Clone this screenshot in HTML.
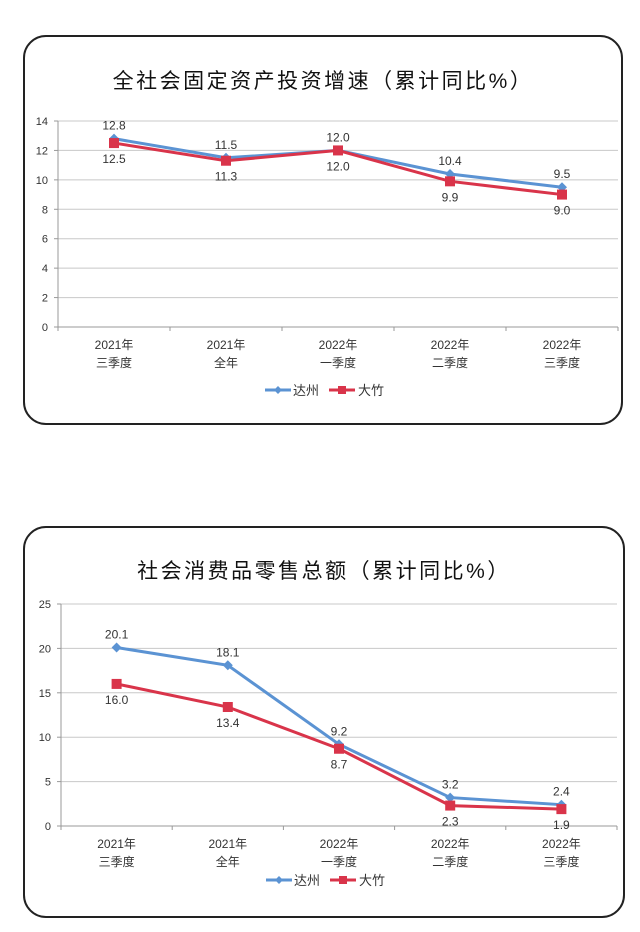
<!DOCTYPE html>
<html><head><meta charset="utf-8"><style>
html,body{margin:0;padding:0;background:#fff;}
body{width:640px;height:932px;position:relative;overflow:hidden;font-family:"Liberation Sans","Noto Sans CJK SC",sans-serif;}
svg{position:absolute;left:0;top:0;}
</style></head><body>
<svg id="s" width="640" height="932"></svg>
<script>
const categoriesTop = ["2021年|三季度","2021年|全年","2022年|一季度","2022年|二季度","2022年|三季度"];
const dazhouInvest = [12.8, 11.5, 12.0, 10.4, 9.5];
const dazhuInvest = [12.5, 11.3, 12.0, 9.9, 9.0];
const ticksTop = [0,2,4,6,8,10,12,14];
const categoriesBottom = ["2021年|三季度","2021年|全年","2022年|一季度","2022年|二季度","2022年|三季度"];
const dazhouRetail = [20.1, 18.1, 9.2, 3.2, 2.4];
const dazhuRetail = [16.0, 13.4, 8.7, 2.3, 1.9];
const ticksBottom = [0,5,10,15,20,25];

const NS="http://www.w3.org/2000/svg";
const svg=document.getElementById('s');
function mk(tag,attrs,parent){const e=document.createElementNS(NS,tag);for(const k in attrs)e.setAttribute(k,attrs[k]);(parent||svg).appendChild(e);return e;}

function chart(cfg){
  const g=mk('g',{});
  
  
  const panel=mk('rect',{x:cfg.px,y:cfg.py,width:cfg.pw,height:cfg.ph,rx:22,ry:22,fill:'#fff',stroke:'#222','stroke-width':2},g);
  
  
  const t=mk('text',{x:cfg.px+cfg.pw/2,y:cfg.titleY,'text-anchor':'middle','font-size':21,fill:'#111','letter-spacing':'2.5'},g);
  t.textContent=cfg.title;
  
  
  const max=cfg.ticks[cfg.ticks.length-1];
  const y=v=>cfg.y0-(v/max)*(cfg.y0-cfg.yTop);
  const n=cfg.cats.length;const step=(cfg.x1-cfg.x0)/n;
  const x=i=>cfg.x0+step*(i+0.5);
  cfg.ticks.forEach(v=>{
    if(v>0){const l=mk('line',{x1:cfg.x0,x2:cfg.x1,y1:y(v),y2:y(v),stroke:'#c8c8c8','stroke-width':1},g);
    }
    const tl=mk('text',{x:cfg.x0-10,y:y(v)+4,'text-anchor':'end','font-size':11,fill:'#333'},g);
    tl.textContent=v;
    mk('line',{x1:cfg.x0-4,x2:cfg.x0,y1:y(v),y2:y(v),stroke:'#999'},g);
  });
  const ax=mk('line',{x1:cfg.x0,x2:cfg.x0,y1:cfg.yTop,y2:cfg.y0,stroke:'#999'},g);
  
  const xa=mk('line',{x1:cfg.x0,x2:cfg.x1,y1:cfg.y0,y2:cfg.y0,stroke:'#999'},g);
  
  for(let i=0;i<=n;i++)mk('line',{x1:cfg.x0+step*i,x2:cfg.x0+step*i,y1:cfg.y0,y2:cfg.y0+4,stroke:'#999'},g);
  cfg.cats.forEach((c,i)=>{
    const parts=c.split('|');
    parts.forEach((p,j)=>{
      const tx=mk('text',{x:x(i),y:cfg.y0+22+j*18,'text-anchor':'middle','font-size':12,fill:'#333'},g);
      tx.textContent=p;
    });
  });
  const series=[{d:cfg.blue,c:'#5b93d3',name:'dazhou-line',above:true},{d:cfg.red,c:'#d9344a',name:'dazhu-line',above:false}];
  series.forEach(s=>{
    const pl=mk('polyline',{points:s.d.map((v,i)=>x(i)+','+y(v)).join(' '),fill:'none',stroke:s.c,'stroke-width':3},g);
    
    s.d.forEach((v,i)=>{
      let m;
      if(s.above){m=mk('path',{d:`M${x(i)} ${y(v)-5}L${x(i)+5} ${y(v)}L${x(i)} ${y(v)+5}L${x(i)-5} ${y(v)}Z`,fill:s.c},g);}
      else{m=mk('rect',{x:x(i)-5,y:y(v)-5,width:10,height:10,fill:s.c},g);}
      
      const lb=mk('text',{x:x(i),y:s.above?y(v)-9:y(v)+20,'text-anchor':'middle','font-size':12,fill:'#333'},g);
      lb.textContent=v.toFixed(1);
    });
  });
  const lx=cfg.px+cfg.pw/2-58, ly=cfg.legendY;
  const lg=mk('g',{},g);
  mk('line',{x1:lx,x2:lx+26,y1:ly,y2:ly,stroke:'#5b93d3','stroke-width':3},lg);
  mk('path',{d:`M${lx+13} ${ly-4}L${lx+17} ${ly}L${lx+13} ${ly+4}L${lx+9} ${ly}Z`,fill:'#5b93d3'},lg);
  const l1=mk('text',{x:lx+28,y:ly+5,'font-size':13,fill:'#333'},lg);l1.textContent='达州';
  
  mk('line',{x1:lx+64,x2:lx+90,y1:ly,y2:ly,stroke:'#d9344a','stroke-width':3},lg);
  mk('rect',{x:lx+73,y:ly-4,width:8,height:8,fill:'#d9344a'},lg);
  const l2=mk('text',{x:lx+93,y:ly+5,'font-size':13,fill:'#333'},lg);l2.textContent='大竹';
  
}
chart({name:'fixed-asset-investment-chart',px:24,py:36,pw:598,ph:388,title:'全社会固定资产投资增速（累计同比%）',titleY:88,
  x0:58,x1:618,yTop:121,y0:327,ticks:ticksTop,cats:categoriesTop,blue:dazhouInvest,red:dazhuInvest,legendY:390});
chart({name:'retail-sales-chart',px:24,py:527,pw:600,ph:390,title:'社会消费品零售总额（累计同比%）',titleY:578,
  x0:61,x1:617,yTop:604,y0:826,ticks:ticksBottom,cats:categoriesBottom,blue:dazhouRetail,red:dazhuRetail,legendY:880});
</script>
</body></html>
